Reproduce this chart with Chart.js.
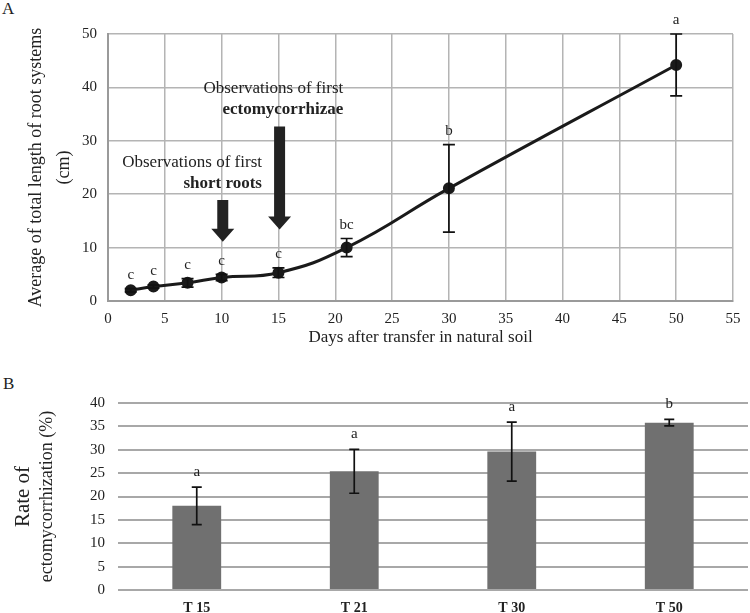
<!DOCTYPE html>
<html lang="en">
<head>
<meta charset="UTF-8">
<title>Root growth and ectomycorrhization</title>
<script src="https://cdn.jsdelivr.net/npm/chart.js@4.4.1/dist/chart.umd.min.js"></script>
<style>
    body { margin: 0; background: #ffffff; font-family: "Liberation Serif", "Times New Roman", serif; }
    .panel-letter { position: absolute; font-size: 17px; color: #222; }
    #boxA { position: absolute; left: 0; top: 0; width: 750px; height: 352px; }
    #boxB { position: absolute; left: 0; top: 360px; width: 750px; height: 253px; }
</style>
</head>
<body>
<div class="panel-letter" style="left:2px; top:-1px;">A</div>
<div class="panel-letter" style="left:3px; top:374px;">B</div>
<div id="boxA"><canvas id="chartA"></canvas></div>
<div id="boxB"><canvas id="chartB"></canvas></div>

<script>
    // Panel A - total root length
    const daysA = [2, 4, 7, 10, 15, 21, 30, 50];
    const lengthA = [2.0, 2.7, 3.4, 4.4, 5.3, 10.0, 21.1, 44.2];
    const errA = [0.3, 0.3, 0.8, 0.6, 0.9, 1.7, 8.2, 5.8];
    const lettersA = ['c', 'c', 'c', 'c', 'c', 'bc', 'b', 'a'];

    // arrows + notes (in data units)
    const arrowX = [10.1, 15.1];
    const arrowTop = [18.9, 32.7];
    const arrowTip = [11.1, 13.4];
    const noteX = [13.55, 20.7];
    const noteY = [26.0, 39.7];
    const noteBold = ['short roots', 'ectomycorrhizae'];

    // Panel B - ectomycorrhization rate
    const timesB = ['T 15', 'T 21', 'T 30', 'T 50'];
    const rateB = [18.0, 25.4, 29.6, 35.8];
    const errB = [4.0, 4.7, 6.3, 0.7];
    const lettersB = ['a', 'a', 'a', 'b'];

    const serif = '"Liberation Serif", "Times New Roman", serif';
    Chart.defaults.font.family = serif;
    Chart.defaults.color = '#222';

    // error bars + significance letters
    const errorBars = {
        id: 'errorBars',
        afterDatasetsDraw(chart, args, opts) {
            const ctx = chart.ctx;
            const y = chart.scales.y;
            const meta = chart.getDatasetMeta(0);
            ctx.save();
            ctx.strokeStyle = '#111';
            ctx.lineWidth = 1.7;
            ctx.fillStyle = '#222';
            ctx.font = '15px ' + serif;
            ctx.textAlign = 'center';
            ctx.textBaseline = 'bottom';
            meta.data.forEach((el, i) => {
                const v = opts.values[i], e = opts.errors[i];
                const px = el.x;
                const top = y.getPixelForValue(v + e);
                const bot = y.getPixelForValue(v - e);
                const c = opts.cap;
                ctx.beginPath();
                ctx.moveTo(px, top); ctx.lineTo(px, bot);
                ctx.moveTo(px - c, top); ctx.lineTo(px + c, top);
                ctx.moveTo(px - c, bot); ctx.lineTo(px + c, bot);
                ctx.stroke();
                ctx.fillText(opts.letters[i], px, top - opts.gap);
            });
            ctx.restore();
        }
    };

    // big black arrows and notes on panel A
    const notes = {
        id: 'notes',
        afterDatasetsDraw(chart) {
            if (chart.canvas.id !== 'chartA') return;
            const ctx = chart.ctx;
            const { x, y } = chart.scales;
            ctx.save();
            ctx.fillStyle = '#222';
            arrowX.forEach((ax, i) => {
                const px = x.getPixelForValue(ax);
                const t = y.getPixelForValue(arrowTop[i]);
                const tip = y.getPixelForValue(arrowTip[i]);
                const head = 13, shaft = 5.5, wing = 11.5;
                ctx.beginPath();
                ctx.moveTo(px - shaft, t);
                ctx.lineTo(px + shaft, t);
                ctx.lineTo(px + shaft, tip - head);
                ctx.lineTo(px + wing, tip - head);
                ctx.lineTo(px, tip);
                ctx.lineTo(px - wing, tip - head);
                ctx.lineTo(px - shaft, tip - head);
                ctx.closePath();
                ctx.fill();
            });
            ctx.textAlign = 'right';
            ctx.textBaseline = 'middle';
            noteX.forEach((nx, i) => {
                const px = x.getPixelForValue(nx);
                const py = y.getPixelForValue(noteY[i]);
                ctx.font = '17px ' + serif;
                ctx.fillText('Observations of first', px, py);
                ctx.font = 'bold 17px ' + serif;
                ctx.fillText(noteBold[i], px, py + 21);
            });
            ctx.restore();
        }
    };

    // two-size rotated y title for panel B
    const titleB = {
        id: 'titleB',
        afterDraw(chart) {
            const ctx = chart.ctx;
            const area = chart.chartArea;
            const cy = (area.top + area.bottom) / 2;
            ctx.save();
            ctx.fillStyle = '#222';
            ctx.textAlign = 'center';
            ctx.textBaseline = 'middle';
            ctx.translate(23, cy);
            ctx.rotate(-Math.PI / 2);
            ctx.font = '21px ' + serif;
            ctx.fillText('Rate of', 0, 0);
            ctx.font = '18px ' + serif;
            ctx.fillText('ectomycorrhization (%)', 0, 24);
            ctx.restore();
        }
    };

    new Chart(document.getElementById('chartA'), {
        type: 'line',
        data: {
            datasets: [{
                data: daysA.map((d, i) => ({ x: d, y: lengthA[i] })),
                borderColor: '#1a1a1a',
                backgroundColor: '#1a1a1a',
                borderWidth: 3,
                pointRadius: 4.5,
                pointHoverRadius: 4.5,
                tension: 0.45
            }]
        },
        options: {
            responsive: true,
            maintainAspectRatio: false,
            animation: false,
            layout: { padding: { top: 34, right: 17, left: 22, bottom: 0 } },
            plugins: {
                legend: { display: false },
                tooltip: { enabled: false },
                errorBars: { values: lengthA, errors: errA, letters: lettersA, cap: 6, gap: 6 }
            },
            scales: {
                x: {
                    type: 'linear', min: 0, max: 55,
                    ticks: { stepSize: 5, font: { size: 15 }, padding: 9, color: '#222' },
                    grid: { color: '#b4b4b4', lineWidth: 1.5, drawTicks: false },
                    border: { color: '#9a9a9a', width: 2 },
                    title: { display: true, text: 'Days after transfer in natural soil', font: { size: 17 }, padding: { top: 6 }, color: '#222' },
                    afterFit(s) { s.height = 51; }
                },
                y: {
                    min: 0, max: 50,
                    ticks: { stepSize: 10, font: { size: 15 }, padding: 11, color: '#222' },
                    grid: { color: '#b4b4b4', lineWidth: 1.5, drawTicks: false },
                    border: { color: '#9a9a9a', width: 2 },
                    title: { display: true, text: ['Average of total length of root systems', '(cm)'], font: { size: 18, lineHeight: 1.55 }, padding: 0, color: '#222' },
                    afterFit(s) { s.width = 86; }
                }
            }
        },
        plugins: [errorBars, notes]
    });

    new Chart(document.getElementById('chartB'), {
        type: 'bar',
        data: {
            labels: timesB,
            datasets: [{
                data: rateB,
                backgroundColor: '#707070',
                barPercentage: 0.31,
                categoryPercentage: 1
            }]
        },
        options: {
            responsive: true,
            maintainAspectRatio: false,
            animation: false,
            layout: { padding: { top: 43, right: 2, left: 0, bottom: 0 } },
            plugins: {
                legend: { display: false },
                tooltip: { enabled: false },
                errorBars: { values: rateB, errors: errB, letters: lettersB, cap: 5, gap: 8 }
            },
            scales: {
                x: {
                    ticks: { font: { size: 14, weight: 'bold' }, padding: 10, color: '#222' },
                    grid: { display: false, drawTicks: false },
                    border: { display: false },
                    afterFit(s) { s.height = 23; }
                },
                y: {
                    min: 0, max: 40,
                    ticks: { stepSize: 5, font: { size: 15 }, padding: 13, color: '#222' },
                    grid: { color: '#a8a8a8', lineWidth: 2, drawTicks: false },
                    border: { display: false },
                    afterFit(s) { s.width = 118; }
                }
            }
        },
        plugins: [errorBars, titleB]
    });
</script>
</body>
</html>
